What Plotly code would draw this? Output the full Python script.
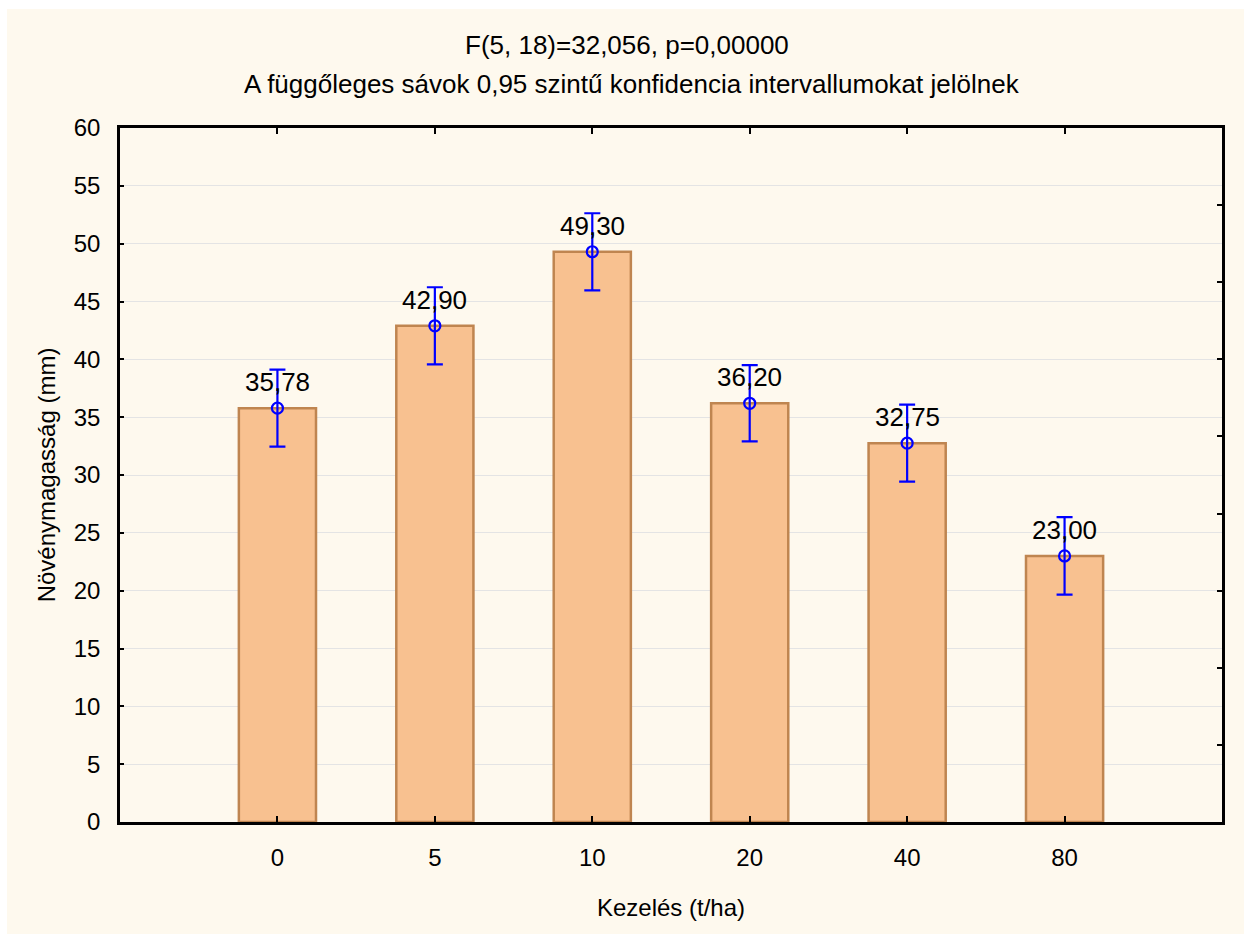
import plotly.graph_objects as go

categories = ["0", "5", "10", "20", "40", "80"]
means = [35.78, 42.90, 49.30, 36.20, 32.75, 23.00]
ci_half = [3.33, 3.33, 3.33, 3.30, 3.33, 3.35]
labels = ["35,78", "42,90", "49,30", "36,20", "32,75", "23,00"]
y_ticks = list(range(0, 61, 5))
title_lines = ["F(5, 18)=32,056, p=0,00000",
               "A függőleges sávok 0,95 szintű konfidencia intervallumokat jelölnek"]

xpos = list(range(len(categories)))

L, R, T, B = 120, 1222, 128, 822
W, H = 1250, 940
pw, ph = R - L, B - T

def px(x):
    return (x - L) / pw

def py(y):
    return (B - y) / ph

FAM = "Liberation Sans, Arial"
font = dict(family=FAM, size=24, color="black")

fig = go.Figure()
fig.add_trace(go.Bar(
    x=xpos, y=means, width=0.49,
    marker=dict(color="#F8C190", line=dict(color="#BF8550", width=2.5)),
    hoverinfo="skip", showlegend=False,
))
fig.add_trace(go.Scatter(
    x=xpos, y=means, mode="markers",
    marker=dict(symbol="circle-open", size=11, color="#0000FF", line=dict(width=2.2, color="#0000FF")),
    error_y=dict(type="data", array=ci_half, color="#0000FF", thickness=2.2, width=8),
    showlegend=False,
))
fig.add_trace(go.Scatter(x=[None], y=[None], yaxis="y2", showlegend=False))

for xi, m, lab in zip(xpos, means, labels):
    fig.add_annotation(x=xi, y=m, text=lab, showarrow=False, yanchor="bottom",
                       yshift=9, font=dict(family=FAM, size=26, color="black"))

for line, ypix, xc in zip(title_lines, [45, 84], [627, 632]):
    fig.add_annotation(xref="paper", yref="paper", x=px(xc), y=py(ypix), text=line,
                       showarrow=False, xanchor="center", yanchor="middle",
                       font=dict(family=FAM, size=26, color="black"))

fig.update_layout(
    width=W, height=H,
    margin=dict(l=L, r=W - R, t=T, b=H - B),
    paper_bgcolor="white",
    plot_bgcolor="white",
    font=font,
    xaxis=dict(range=[-1, 6], tickvals=xpos, ticktext=categories, ticks="inside", ticklen=6,
               tickwidth=2, tickcolor="black", showline=True, linecolor="black", linewidth=2.5,
               mirror="ticks", showgrid=False, zeroline=False, tickfont=font, ticklabelstandoff=12,
               title=dict(text="Kezelés (t/ha)", font=font, standoff=30)),
    yaxis=dict(range=[0, 60], tickvals=y_ticks, ticks="inside", ticklen=4, tickwidth=2,
               tickcolor="black", showline=True, linecolor="black", linewidth=2.5, mirror=True,
               showgrid=True, gridcolor="#E4E4E4", gridwidth=1, zeroline=False, tickfont=font,
               ticklabelstandoff=12,
               title=dict(text="Növénymagasság (mm)", font=font, standoff=12)),
    yaxis2=dict(range=[0, 9], dtick=1, overlaying="y", side="right", ticks="inside", ticklen=5,
                tickwidth=2, tickcolor="black", showticklabels=False, showgrid=False,
                zeroline=False, showline=False),
    shapes=[dict(type="rect", xref="paper", yref="paper", x0=px(7), x1=px(1244), y0=py(934), y1=py(9),
                 fillcolor="#FEF9EE", line=dict(width=0), layer="below")],
)

fig.write_html("out.html")
